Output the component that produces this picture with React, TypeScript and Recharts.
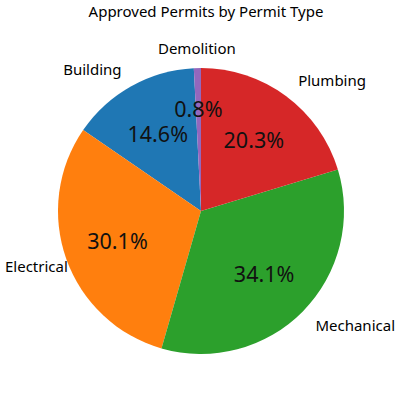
import React from "react";
import { PieChart, Pie, Cell } from "recharts";

const categories = ["Building", "Electrical", "Mechanical", "Plumbing", "Demolition"];
const shares = [14.6, 30.1, 34.1, 20.3, 0.8];
const colors = ["#1f77b4", "#ff7f0e", "#2ca02c", "#d62728", "#9467bd"];
const title = "Approved Permits by Permit Type";

const data = categories.map((name, i) => ({ name, value: shares[i] }));

const RAD = Math.PI / 180;
const FONT = "'Noto Sans', 'DejaVu Sans', sans-serif";
const LABEL_SIZE = 15;
const PCT_SIZE = 21.5;
const CHART_W = 400;
const EDGE = 5;

let measureCtx: CanvasRenderingContext2D | null = null;
const textWidth = (t: string, size: number) => {
  if (!measureCtx && typeof document !== "undefined") {
    measureCtx = document.createElement("canvas").getContext("2d");
  }
  if (!measureCtx) return t.length * size * 0.55;
  measureCtx.font = `${size}px 'Noto Sans'`;
  return measureCtx.measureText(t).width;
};

const renderLabel = (props: any) => {
  const { cx, cy, midAngle, outerRadius, name, value, percent } = props;
  const c = Math.cos(-midAngle * RAD);
  const s = Math.sin(-midAngle * RAD);
  const lr = outerRadius * 1.14;
  const pr = outerRadius * (percent < 0.02 ? 0.72 : 0.62);
  let lx = cx + lr * c;
  const ly = cy + lr * s;
  const px = cx + pr * c;
  const py = cy + pr * s;
  const anchor = Math.abs(c) < 0.1 ? "middle" : c > 0 ? "start" : "end";
  const w = textWidth(name, LABEL_SIZE);
  if (anchor === "end" && lx - w < EDGE) lx = EDGE + w;
  if (anchor === "start" && lx + w > CHART_W - EDGE) lx = CHART_W - EDGE - w;
  return (
    <g>
      <text x={lx} y={ly} textAnchor={anchor} dominantBaseline="central" fill="#000" fontSize={LABEL_SIZE} fontFamily={FONT}>
        {name}
      </text>
      <text x={px} y={py} textAnchor="middle" dominantBaseline="central" fill="#111" fontSize={PCT_SIZE} fontFamily={FONT}>
        {`${Number(value).toFixed(1)}%`}
      </text>
    </g>
  );
};

export default function App() {
  return (
    <div style={{ position: "fixed", left: 0, top: 0, width: 400, height: 400, background: "#fff" }}>
      <div
        style={{
          position: "absolute",
          left: 0,
          top: 1,
          width: 412,
          textAlign: "center",
          fontFamily: FONT,
          fontSize: 15,
          color: "#000",
          lineHeight: "20px",
        }}
      >
        {title}
      </div>
      <PieChart width={400} height={400} margin={{ top: 0, right: 0, bottom: 0, left: 0 }}>
        <Pie
          data={data}
          dataKey="value"
          nameKey="name"
          cx={201}
          cy={211}
          outerRadius={143}
          startAngle={92.88}
          endAngle={452.88}
          stroke="none"
          label={renderLabel}
          labelLine={false}
          isAnimationActive={false}
        >
          {data.map((d, i) => (
            <Cell key={d.name} fill={colors[i]} />
          ))}
        </Pie>
      </PieChart>
    </div>
  );
}
